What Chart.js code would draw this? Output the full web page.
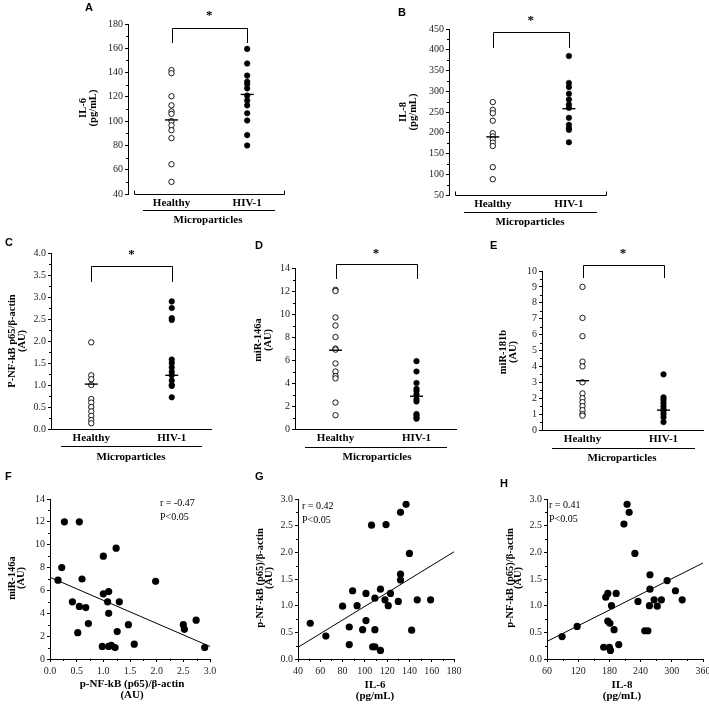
<!DOCTYPE html>
<html>
<head>
<meta charset="utf-8">
<script src="https://cdn.jsdelivr.net/npm/chart.js@4.4.0/dist/chart.umd.min.js"></script>
<style>
  html, body { margin: 0; padding: 0; background: #fff; width: 709px; height: 707px; overflow: hidden; position: relative; }
  canvas { position: absolute; }
</style>
</head>
<body>
<script>
const groups = ['Healthy', 'HIV-1'];

// A - IL-6
const il6Healthy = [142, 139.5, 120.5, 113, 108, 106, 100, 96.5, 92.5, 86, 64.5, 50];
const il6Hiv = [159.5, 147.5, 137.5, 132.5, 130.5, 127, 121, 117, 113, 106.5, 100.5, 88.5, 80];
const il6Means = [101, 122];
const il6Ticks = { min: 40, max: 180, step: 20 };

// B - IL-8
const il8Healthy = [274, 255, 247, 229, 199, 191, 184, 176, 168, 117, 88];
const il8Hiv = [385, 320, 310, 294, 280, 268, 260, 236, 219, 211, 207, 177];
const il8Means = [190, 258];
const il8Ticks = { min: 50, max: 450, step: 50 };

// C - P-NF-kB p65/beta-actin
const nfkbHealthy = [1.97, 1.22, 1.13, 1.0, 0.68, 0.6, 0.5, 0.4, 0.3, 0.2, 0.13];
const nfkbHiv = [2.9, 2.75, 2.52, 2.48, 1.58, 1.5, 1.4, 1.3, 1.22, 1.1, 1.0, 0.98, 0.72];
const nfkbMeans = [1.02, 1.22];
const nfkbTicks = { min: 0, max: 4, step: 0.5 };

// D - miR-146a
const mir146Healthy = [12.1, 12.0, 9.7, 9.0, 8.0, 7.0, 6.9, 5.7, 5.0, 4.6, 4.4, 2.3, 1.2];
const mir146Hiv = [5.9, 5.0, 4.0, 3.5, 3.3, 3.0, 2.6, 2.4, 1.3, 1.2, 1.0, 0.9];
const mir146Means = [6.85, 2.85];
const mir146Ticks = { min: 0, max: 14, step: 2 };

// E - miR-181b
const mir181Healthy = [9.0, 7.05, 5.9, 4.3, 4.0, 3.0, 2.3, 2.0, 1.75, 1.5, 1.25, 1.0, 0.9];
const mir181Hiv = [3.5, 2.05, 1.9, 1.7, 1.5, 1.3, 1.2, 1.0, 0.8, 0.5];
const mir181Means = [3.1, 1.25];
const mir181Ticks = { min: 0, max: 10, step: 1 };

// F - miR-146a vs p-NF-kB
const fX = [0.27, 0.55, 0.22, 0.15, 0.6, 0.42, 0.55, 0.67, 0.72, 0.52, 1.0, 1.24, 1.0, 1.1, 1.08, 1.3, 1.1, 0.98, 1.1, 1.15, 1.22, 1.26, 1.47, 1.58, 1.98, 2.5, 2.52, 2.74, 2.9];
const fY = [12, 12, 8.0, 6.9, 7.0, 5.0, 4.6, 4.5, 3.1, 2.3, 9.0, 9.7, 5.7, 5.9, 5.0, 5.0, 4.0, 1.1, 1.1, 1.2, 1.0, 2.4, 3.0, 1.3, 6.8, 3.0, 2.6, 3.4, 1.0];
const fFitX = [0, 3];
const fFitY = [7.15, 1.1];

// G - p-NF-kB vs IL-6
const gX = [51, 65, 80, 89, 93, 86, 86, 98, 101, 101, 106, 107, 109, 109, 109, 114, 114, 119, 118, 121, 123, 130, 132, 132, 132, 137, 140, 142, 147, 159];
const gY = [0.67, 0.43, 0.99, 1.28, 1.0, 0.6, 0.27, 0.55, 0.72, 1.23, 2.51, 0.23, 0.23, 0.55, 1.14, 1.31, 0.16, 2.52, 1.11, 1.0, 1.23, 1.08, 1.59, 1.48, 2.75, 2.9, 1.98, 0.54, 1.11, 1.11];
const gFitX = [40, 180];
const gFitY = [0.22, 2.01];

// H - p-NF-kB vs IL-8
const hX = [89, 118, 169, 180, 182, 198, 173, 177, 184, 177, 181, 189, 193, 208, 214, 218, 229, 235, 248, 254, 257, 258, 258, 266, 272, 280, 291, 307, 320];
const hY = [0.42, 0.61, 0.22, 0.22, 0.16, 0.27, 1.16, 1.23, 1.0, 0.71, 0.67, 0.55, 1.23, 2.53, 2.9, 2.75, 1.98, 1.08, 0.53, 0.53, 1.0, 1.58, 1.31, 1.11, 0.99, 1.11, 1.47, 1.28, 1.11];
const hFitX = [60, 360];
const hFitY = [0.33, 1.8];

const serif = '"Liberation Serif", "Times New Roman", serif';
const sans = '"Liberation Sans", Arial, sans-serif';
const PL = 60, PT = 32, PR = 20, PB = 50, YW = 28, XH = 20;

function makeCanvas(area) {
  const c = document.createElement('canvas');
  const w = area.r - area.l + PL + PR, h = area.b - area.t + PT + PB;
  c.width = w; c.height = h;
  c.style.left = (area.l - PL) + 'px';
  c.style.top = (area.t - PT) + 'px';
  c.style.width = w + 'px';
  c.style.height = h + 'px';
  document.body.appendChild(c);
  return c;
}

function tickStyle() {
  return { drawOnChartArea: false, drawTicks: true, tickLength: 3, color: '#000', lineWidth: 1 };
}

function yScale(t, fmt) {
  return {
    type: 'linear', min: t.min, max: t.max,
    ticks: { stepSize: t.step, color: '#222', padding: 2, font: { family: serif, size: 10 },
      callback: v => fmt ? v.toFixed(1) : v },
    grid: tickStyle(),
    border: { color: '#000', width: 1 },
    afterFit: s => { s.width = YW; }
  };
}

function text(ctx, str, x, y, font, align) {
  ctx.font = font;
  ctx.textAlign = align || 'center';
  ctx.textBaseline = 'middle';
  ctx.fillText(str, x, y);
}

// everything in the decoration plugin is in page coordinates
function decor(p) {
  const ox = p.area.l - PL, oy = p.area.t - PT;
  return {
    id: 'decor',
    afterDraw(chart) {
      const ctx = chart.ctx;
      const xs = chart.scales.x, ys = chart.scales.y;
      ctx.save();
      ctx.translate(-ox, -oy);
      ctx.fillStyle = '#000';
      ctx.strokeStyle = '#000';
      ctx.lineWidth = 1;

      // minor y ticks
      const yt = ys.ticks;
      for (let i = 0; i < yt.length - 1; i++) {
        const yy = ys.getPixelForValue((yt[i].value + yt[i + 1].value) / 2) + oy;
        ctx.beginPath();
        ctx.moveTo(p.area.l, Math.round(yy) + 0.5);
        ctx.lineTo(p.area.l - 2, Math.round(yy) + 0.5);
        ctx.stroke();
      }

      // panel letter
      text(ctx, p.letter[0], p.letter[1], p.letter[2], 'bold 11px ' + sans, 'left');

      // y title
      p.ytitle.forEach((line, i) => {
        ctx.save();
        ctx.translate(p.ytitleX[i], p.ytitleY);
        ctx.rotate(-Math.PI / 2);
        text(ctx, line, 0, 0, 'bold 10.5px ' + serif);
        ctx.restore();
      });

      if (p.kind === 'dot') {
        const x1 = xs.getPixelForValue(1) + ox, x2 = xs.getPixelForValue(3) + ox;
        const b = p.area.b + 0.5;
        // x axis line
        ctx.beginPath();
        if (p.endTicks) {
          ctx.moveTo(p.area.l + p.gap + 0.5, b - 4);
          ctx.lineTo(p.area.l + p.gap + 0.5, b);
          ctx.lineTo(p.area.r - 0.5, b);
          ctx.lineTo(p.area.r - 0.5, b - 4);
        } else {
          ctx.moveTo(p.area.l, b);
          ctx.lineTo(p.area.r, b);
        }
        ctx.stroke();
        // underline + group caption
        ctx.beginPath();
        ctx.moveTo(p.under[1], p.under[0] + 0.5);
        ctx.lineTo(p.under[2], p.under[0] + 0.5);
        ctx.stroke();
        text(ctx, 'Microparticles', p.micro[0], p.micro[1], 'bold 11px ' + serif);
        // significance bracket
        ctx.beginPath();
        ctx.moveTo(Math.round(x1) + 0.5, p.bracket[1]);
        ctx.lineTo(Math.round(x1) + 0.5, p.bracket[0] + 0.5);
        ctx.lineTo(Math.round(x2) + 0.5, p.bracket[0] + 0.5);
        ctx.lineTo(Math.round(x2) + 0.5, p.bracket[1]);
        ctx.stroke();
        text(ctx, '*', (x1 + x2) / 2, p.star, 'bold 13px ' + serif);
      } else {
        // minor x ticks
        const xt = xs.ticks;
        for (let i = 0; i < xt.length - 1; i++) {
          const xx = xs.getPixelForValue((xt[i].value + xt[i + 1].value) / 2) + ox;
          ctx.beginPath();
          ctx.moveTo(Math.round(xx) + 0.5, p.area.b);
          ctx.lineTo(Math.round(xx) + 0.5, p.area.b + 2);
          ctx.stroke();
        }
        p.xtitle.forEach((line, i) => text(ctx, line, p.xtitleX, p.xtitleY[i], 'bold 11px ' + serif));
        p.annot.forEach((line, i) => text(ctx, line, p.annotX, p.annotY[i], '10px ' + serif, 'left'));
      }
      ctx.restore();
    }
  };
}

function dotPanel(p) {
  p.kind = 'dot';
  new Chart(makeCanvas(p.area), {
    type: 'scatter',
    data: {
      datasets: [
        { data: p.means.map((v, i) => ({ x: 1 + 2 * i, y: v })), pointStyle: 'line', pointRadius: 6.5,
          pointBorderColor: '#000', pointBorderWidth: 1.4 },
        { data: p.healthy.map(v => ({ x: 1, y: v })), pointRadius: 2.7, pointBackgroundColor: '#fff',
          pointBorderColor: '#000', pointBorderWidth: 0.9 },
        { data: p.hiv.map(v => ({ x: 3, y: v })), pointRadius: 2.8, pointBackgroundColor: '#000',
          pointBorderColor: '#000', pointBorderWidth: 0.5 }
      ]
    },
    options: {
      responsive: false, animation: false,
      layout: { padding: { left: PL - YW, top: PT, right: PR, bottom: PB - XH } },
      plugins: { legend: { display: false }, tooltip: { enabled: false } },
      scales: {
        x: {
          type: 'linear', min: p.xmin, max: 4,
          afterBuildTicks: s => { s.ticks = [{ value: 1 }, { value: 3 }]; },
          ticks: { callback: (v, i) => groups[i], color: '#000', padding: 3, autoSkip: false, maxRotation: 0,
            font: { family: serif, size: 11, weight: 'bold' } },
          grid: { display: false, drawTicks: false },
          border: { display: false },
          afterFit: s => { s.height = XH; }
        },
        y: yScale(p.ticks, p.fmt)
      }
    },
    plugins: [decor(p)]
  });
}

function scatterPanel(p) {
  p.kind = 'scatter';
  new Chart(makeCanvas(p.area), {
    type: 'scatter',
    data: {
      datasets: [
        { type: 'line', data: p.fitX.map((x, i) => ({ x: x, y: p.fitY[i] })), borderColor: '#000',
          borderWidth: 1, pointRadius: 0, fill: false },
        { data: p.xs.map((x, i) => ({ x: x, y: p.ys[i] })), pointRadius: 3.6, pointBackgroundColor: '#000',
          pointBorderColor: '#000', pointBorderWidth: 0 }
      ]
    },
    options: {
      responsive: false, animation: false,
      layout: { padding: { left: PL - YW, top: PT, right: PR, bottom: PB - XH } },
      plugins: { legend: { display: false }, tooltip: { enabled: false } },
      scales: {
        x: {
          type: 'linear', min: p.xticks.min, max: p.xticks.max,
          ticks: { stepSize: p.xticks.step, color: '#222', padding: 3, maxRotation: 0, autoSkip: false,
            font: { family: serif, size: 10 }, callback: v => p.xfmt ? v.toFixed(1) : v },
          grid: tickStyle(),
          border: { color: '#000', width: 1 },
          afterFit: s => { s.height = XH; }
        },
        y: yScale(p.yticks, p.yfmt)
      }
    },
    plugins: [decor(p)]
  });
}

dotPanel({
  area: { l: 128, t: 24, r: 285, b: 194 }, xmin: -0.15, gap: 6, endTicks: true,
  healthy: il6Healthy, hiv: il6Hiv, means: il6Means, ticks: il6Ticks,
  letter: ['A', 85, 8], ytitle: ['IL-6', '(pg/mL)'], ytitleX: [83, 93], ytitleY: 108,
  under: [210, 143, 275], micro: [208, 220], bracket: [28, 43], star: 16
});
dotPanel({
  area: { l: 449, t: 29, r: 607, b: 195 }, xmin: -0.15, gap: 6, endTicks: true,
  healthy: il8Healthy, hiv: il8Hiv, means: il8Means, ticks: il8Ticks,
  letter: ['B', 398, 13], ytitle: ['IL-8', '(pg/mL)'], ytitleX: [403, 413], ytitleY: 112,
  under: [212, 464, 597], micro: [530, 222], bracket: [32, 48], star: 21
});
dotPanel({
  area: { l: 51, t: 253, r: 212, b: 429 }, xmin: 0, gap: 0, endTicks: false,
  healthy: nfkbHealthy, hiv: nfkbHiv, means: nfkbMeans, ticks: nfkbTicks, fmt: true,
  letter: ['C', 5, 243], ytitle: ['P-NF-kB p65/β-actin', '(AU)'], ytitleX: [12, 22], ytitleY: 341,
  under: [446, 61, 202], micro: [131, 457], bracket: [266, 282], star: 255
});
dotPanel({
  area: { l: 295, t: 268, r: 457, b: 429 }, xmin: 0, gap: 0, endTicks: false,
  healthy: mir146Healthy, hiv: mir146Hiv, means: mir146Means, ticks: mir146Ticks,
  letter: ['D', 255, 246], ytitle: ['miR-146a', '(AU)'], ytitleX: [258, 268], ytitleY: 340,
  under: [447, 305, 447], micro: [377, 457], bracket: [264, 279], star: 254
});
dotPanel({
  area: { l: 542, t: 271, r: 704, b: 430 }, xmin: 0, gap: 0, endTicks: false,
  healthy: mir181Healthy, hiv: mir181Hiv, means: mir181Means, ticks: mir181Ticks,
  letter: ['E', 490, 246], ytitle: ['miR-181b', '(AU)'], ytitleX: [503, 513], ytitleY: 352,
  under: [448, 552, 695], micro: [622, 458], bracket: [265, 278], star: 254
});

scatterPanel({
  area: { l: 50, t: 499, r: 210, b: 659 },
  xs: fX, ys: fY, fitX: fFitX, fitY: fFitY,
  xticks: { min: 0, max: 3, step: 0.5 }, xfmt: true, yticks: { min: 0, max: 14, step: 2 },
  letter: ['F', 5, 477], ytitle: ['miR-146a', '(AU)'], ytitleX: [12, 21], ytitleY: 578,
  xtitle: ['p-NF-kB (p65)/β-actin', '(AU)'], xtitleX: 132, xtitleY: [684, 695],
  annot: ['r = -0.47', 'P<0.05'], annotX: 160, annotY: [503, 517]
});
scatterPanel({
  area: { l: 298, t: 499, r: 454, b: 659 },
  xs: gX, ys: gY, fitX: gFitX, fitY: gFitY,
  xticks: { min: 40, max: 180, step: 20 }, yticks: { min: 0, max: 3, step: 0.5 }, yfmt: true,
  letter: ['G', 255, 477], ytitle: ['p-NF-kB (p65)/β-actin', '(AU)'], ytitleX: [260, 269], ytitleY: 578,
  xtitle: ['IL-6', '(pg/mL)'], xtitleX: 375, xtitleY: [685, 696],
  annot: ['r = 0.42', 'P<0.05'], annotX: 302, annotY: [506, 520]
});
scatterPanel({
  area: { l: 547, t: 499, r: 703, b: 659 },
  xs: hX, ys: hY, fitX: hFitX, fitY: hFitY,
  xticks: { min: 60, max: 360, step: 60 }, yticks: { min: 0, max: 3, step: 0.5 }, yfmt: true,
  letter: ['H', 500, 484], ytitle: ['p-NF-kB (p65)/β-actin', '(AU)'], ytitleX: [510, 518], ytitleY: 578,
  xtitle: ['IL-8', '(pg/mL)'], xtitleX: 622, xtitleY: [685, 696],
  annot: ['r = 0.41', 'P<0.05'], annotX: 549, annotY: [505, 519]
});
</script>
</body>
</html>
